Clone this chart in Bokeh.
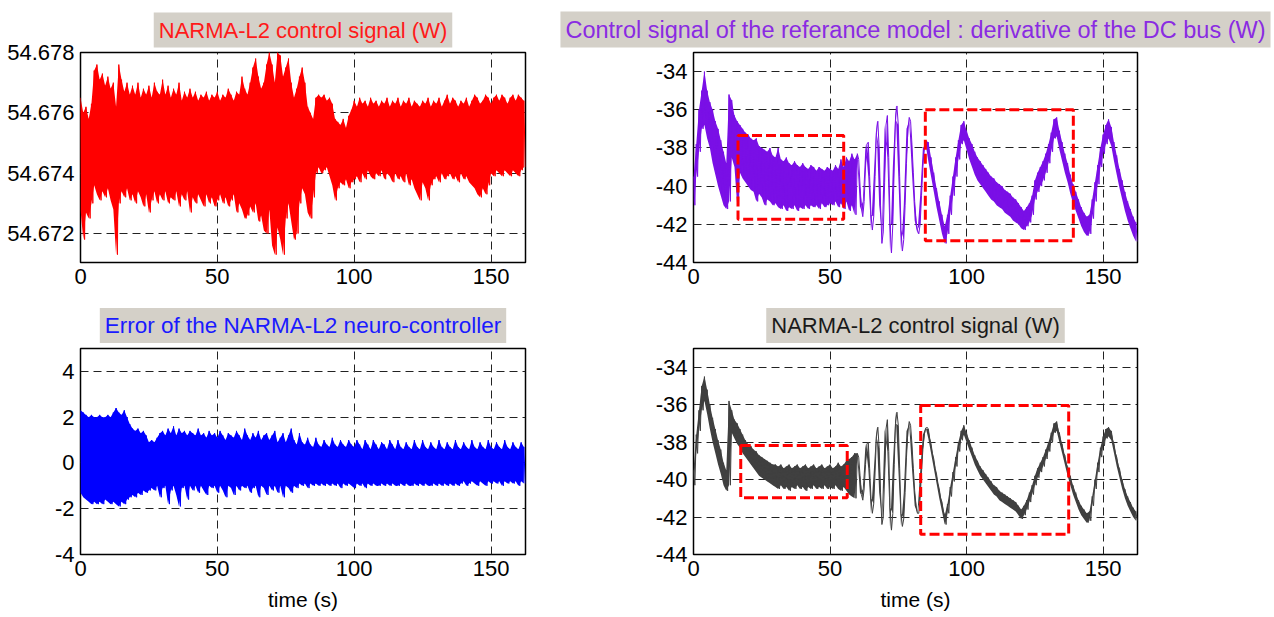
from bokeh.plotting import figure
from bokeh.layouts import column, row
from bokeh.models import Range1d, FixedTicker, PrintfTickFormatter
from bokeh.embed import file_html
from bokeh.resources import INLINE

# sample instants (s); each trace is drawn as upper edge at t and lower edge at t+0.5
time_s = list(range(163))

red_hi = [
    54.6765, 54.6760, 54.6762, 54.6758, 54.6763, 54.6774, 54.6776, 54.6771, 54.6773, 54.6769,
    54.6772, 54.6768, 54.6770, 54.6762, 54.6776, 54.6771, 54.6767, 54.6770, 54.6766, 54.6769,
    54.6766, 54.6770, 54.6765, 54.6768, 54.6766, 54.6769, 54.6765, 54.6770, 54.6767, 54.6766,
    54.6771, 54.6766, 54.6769, 54.6765, 54.6768, 54.6766, 54.6770, 54.6764, 54.6767, 54.6765,
    54.6768, 54.6765, 54.6767, 54.6764, 54.6766, 54.6765, 54.6767, 54.6764, 54.6766, 54.6765,
    54.6767, 54.6764, 54.6766, 54.6765, 54.6768, 54.6766, 54.6764, 54.6767, 54.6766, 54.6772,
    54.6768, 54.6766, 54.6770, 54.6775, 54.6778, 54.6772, 54.6768, 54.6770, 54.6776, 54.6780,
    54.6776, 54.6770, 54.6780, 54.6779, 54.6772, 54.6775, 54.6778, 54.6770, 54.6765, 54.6768,
    54.6772, 54.6775, 54.6770, 54.6762, 54.6760, 54.6758, 54.6765, 54.6766, 54.6765, 54.6766,
    54.6764, 54.6765, 54.6763, 54.6758, 54.6757, 54.6756, 54.6758, 54.6755, 54.6759, 54.6761,
    54.6764, 54.6762, 54.6765, 54.6763, 54.6764, 54.6762, 54.6765, 54.6763, 54.6764, 54.6762,
    54.6764, 54.6763, 54.6765, 54.6762, 54.6764, 54.6763, 54.6765, 54.6762, 54.6764, 54.6763,
    54.6765, 54.6762, 54.6764, 54.6763, 54.6762, 54.6764, 54.6763, 54.6765, 54.6762, 54.6764,
    54.6763, 54.6765, 54.6762, 54.6764, 54.6766, 54.6763, 54.6765, 54.6764, 54.6762, 54.6764,
    54.6763, 54.6765, 54.6762, 54.6764, 54.6766, 54.6765, 54.6763, 54.6764, 54.6766, 54.6765,
    54.6763, 54.6765, 54.6766, 54.6764, 54.6766, 54.6765, 54.6763, 54.6765, 54.6766, 54.6764,
    54.6766, 54.6765, 54.6764,
]
red_lo = [
    54.6728, 54.6718, 54.6727, 54.6725, 54.6730, 54.6736, 54.6733, 54.6731, 54.6734, 54.6732,
    54.6735, 54.6731, 54.6728, 54.6713, 54.6730, 54.6734, 54.6732, 54.6735, 54.6731, 54.6733,
    54.6730, 54.6734, 54.6732, 54.6729, 54.6733, 54.6727, 54.6731, 54.6734, 54.6730, 54.6733,
    54.6731, 54.6734, 54.6730, 54.6732, 54.6731, 54.6734, 54.6729, 54.6733, 54.6731, 54.6734,
    54.6727, 54.6732, 54.6730, 54.6733, 54.6731, 54.6729, 54.6733, 54.6730, 54.6732, 54.6729,
    54.6731, 54.6733, 54.6730, 54.6732, 54.6729, 54.6731, 54.6733, 54.6727, 54.6730, 54.6728,
    54.6725, 54.6726, 54.6729, 54.6727, 54.6730, 54.6724, 54.6726, 54.6721, 54.6720, 54.6728,
    54.6716, 54.6713, 54.6722, 54.6718, 54.6713, 54.6725, 54.6730, 54.6724, 54.6718, 54.6720,
    54.6730, 54.6735, 54.6733, 54.6727, 54.6725, 54.6732, 54.6740, 54.6742, 54.6740, 54.6741,
    54.6742, 54.6739, 54.6736, 54.6731, 54.6735, 54.6737, 54.6736, 54.6738, 54.6735, 54.6737,
    54.6738, 54.6739, 54.6737, 54.6740, 54.6738, 54.6741, 54.6739, 54.6738, 54.6740, 54.6739,
    54.6741, 54.6738, 54.6740, 54.6739, 54.6737, 54.6740, 54.6738, 54.6739, 54.6737, 54.6740,
    54.6736, 54.6738, 54.6735, 54.6733, 54.6731, 54.6737, 54.6735, 54.6731, 54.6736, 54.6738,
    54.6739, 54.6737, 54.6740, 54.6738, 54.6739, 54.6740, 54.6738, 54.6739, 54.6737, 54.6740,
    54.6738, 54.6739, 54.6737, 54.6736, 54.6735, 54.6733, 54.6732, 54.6735, 54.6733, 54.6736,
    54.6740, 54.6739, 54.6741, 54.6740, 54.6739, 54.6741, 54.6740, 54.6739, 54.6741, 54.6740,
    54.6739, 54.6741, 54.6742,
]

purple_hi = [
    -39.5, -37.8, -36.0, -35.0, -34.0, -35.0, -35.6, -36.0, -36.6, -37.0,
    -37.6, -38.2, -38.8, -35.2, -35.5, -36.3, -36.6, -36.8, -37.0, -37.2,
    -37.3, -37.5, -37.6, -37.5, -37.9, -38.0, -38.1, -38.2, -38.0, -38.4,
    -38.5, -38.0, -38.6, -38.7, -38.5, -38.8, -38.9, -38.7, -38.9, -39.0,
    -38.8, -39.0, -39.1, -38.9, -39.0, -39.2, -39.0, -39.1, -39.2, -39.0,
    -39.1, -39.2, -38.9, -39.1, -38.6, -39.0, -38.5, -38.7, -38.3, -38.6,
    -38.3, -40.0, -41.6, -39.0, -37.7, -41.5, -41.6, -37.2, -38.0, -43.0,
    -39.8, -36.3, -42.0, -42.0, -36.5, -36.8, -42.3, -42.8, -38.8, -36.4,
    -37.8, -40.8, -42.3, -42.0, -39.0, -37.6, -37.7, -38.5, -39.3, -40.1,
    -40.8, -41.5, -42.1, -41.5, -40.5, -39.5, -38.5, -37.6, -36.8, -36.6,
    -37.1, -37.5, -37.8, -38.2, -38.5, -38.7, -38.9, -39.1, -39.3, -39.5,
    -39.6, -39.8, -39.9, -40.0, -40.2, -40.3, -40.4, -40.6, -40.7, -40.9,
    -41.1, -41.3, -41.1, -40.9, -40.5, -39.7, -39.3, -39.0, -38.7, -38.3,
    -37.8, -37.2, -36.5, -36.4, -37.1, -37.7, -38.3, -38.8, -39.4, -39.9,
    -40.3, -40.7, -41.1, -41.4, -41.6, -41.5, -40.7, -39.8, -38.9, -38.0,
    -37.3, -36.8, -36.5, -36.9, -37.7, -38.4, -39.1, -39.7, -40.3, -40.8,
    -41.2, -41.6, -41.9,
]
purple_lo = [
    -41.0, -39.5, -38.2, -37.0, -36.8, -37.5, -38.0, -38.8, -39.4, -40.0,
    -40.5, -41.0, -41.2, -40.8, -38.5, -39.0, -41.0, -39.3, -39.6, -39.8,
    -40.0, -40.2, -40.3, -40.8, -40.4, -40.6, -41.0, -40.7, -40.8, -41.0,
    -40.9, -41.1, -41.2, -41.0, -41.3, -41.1, -41.2, -41.0, -41.3, -41.1,
    -41.2, -41.0, -41.2, -41.0, -41.1, -41.0, -41.2, -40.9, -41.1, -41.0,
    -40.9, -41.0, -40.8, -41.1, -40.9, -41.2, -40.8, -41.3, -41.0, -41.5,
    -38.6, -41.2, -40.8, -37.8, -39.5, -42.3, -39.5, -36.6, -41.0, -42.4,
    -36.8, -38.5, -43.5, -39.0, -35.8, -39.5, -43.4, -41.0, -37.0, -36.6,
    -39.3, -41.8, -42.5, -40.5, -38.0, -37.8, -38.7, -39.5, -40.3, -41.1,
    -41.8, -42.5, -43.0, -42.5, -41.5, -40.5, -39.5, -38.6, -37.8, -37.6,
    -38.1, -38.6, -39.0, -39.4, -39.7, -39.9, -40.1, -40.3, -40.5, -40.7,
    -40.8, -41.0, -41.1, -41.2, -41.4, -41.5, -41.6, -41.8, -41.9, -42.0,
    -42.2, -42.3, -42.1, -41.9, -41.5, -40.7, -40.3, -40.0, -39.7, -39.3,
    -38.8, -38.2, -37.5, -37.4, -38.1, -38.7, -39.3, -39.8, -40.4, -40.9,
    -41.3, -41.7, -42.1, -42.4, -42.6, -42.5, -41.7, -40.8, -39.9, -39.0,
    -38.3, -37.8, -37.5, -37.9, -38.7, -39.4, -40.1, -40.7, -41.3, -41.8,
    -42.2, -42.6, -42.9,
]

blue_hi = [
    2.3, 2.2, 2.1, 2.0, 2.1, 2.0, 2.0, 2.1, 2.0, 2.0,
    2.1, 2.0, 2.2, 2.4, 2.2, 2.1, 2.3, 2.0, 1.7, 1.5,
    1.4, 1.5, 1.3, 1.4, 1.2, 0.9, 1.0, 0.9, 1.1, 1.3,
    1.4, 1.2, 1.5, 1.3, 1.6, 1.2, 1.5, 1.3, 1.4, 1.2,
    1.4, 1.3, 1.2, 1.5, 1.2, 1.3, 1.1, 1.4, 1.2, 1.3,
    1.1, 1.4, 1.2, 1.0, 1.3, 1.2, 1.1, 1.4, 1.2, 1.0,
    1.5, 1.2, 1.0, 1.3, 1.1, 1.4, 1.0, 1.2, 1.3, 1.0,
    1.2, 1.4, 0.9, 1.1, 1.3, 0.9, 1.2, 1.5, 1.0, 0.8,
    1.3, 0.9, 0.8, 1.1, 0.8, 0.7, 1.1, 0.8, 0.7, 1.0,
    0.8, 0.7, 1.1, 0.8, 0.7, 1.0, 0.8, 0.7, 1.0, 0.8,
    0.7, 1.0, 0.8, 0.6, 1.0, 0.8, 0.6, 1.0, 0.8, 0.6,
    0.9, 0.8, 0.6, 1.0, 0.8, 0.6, 1.0, 0.7, 0.6, 0.9,
    0.7, 0.6, 1.0, 0.7, 0.6, 1.0, 0.7, 0.6, 0.9, 0.7,
    0.6, 1.0, 0.7, 0.6, 0.9, 0.7, 0.6, 1.0, 0.7, 0.6,
    0.9, 0.7, 0.6, 1.0, 0.7, 0.6, 0.9, 0.7, 0.6, 1.0,
    0.7, 0.6, 0.9, 0.7, 0.6, 1.0, 0.7, 0.6, 0.9, 0.7,
    0.6, 0.9, 0.7,
]
blue_lo = [
    -1.3, -1.5, -1.6, -1.7, -1.8, -1.7, -1.8, -1.7, -1.8, -1.6,
    -1.7, -1.8, -1.7, -1.8, -1.9, -1.7, -1.8, -1.6, -1.5, -1.4,
    -1.5, -1.3, -1.4, -1.2, -1.3, -1.2, -1.1, -1.2, -1.0, -1.5,
    -1.1, -1.0, -1.8, -1.2, -1.0, -1.4, -1.9, -1.1, -1.0, -1.6,
    -1.0, -1.2, -1.0, -1.3, -1.0, -1.2, -1.4, -1.0, -1.1, -1.0,
    -1.3, -1.0, -1.2, -1.5, -1.0, -1.1, -1.4, -1.0, -1.2, -1.0,
    -1.1, -1.0, -1.3, -1.1, -1.0, -1.5, -1.0, -1.1, -1.4, -1.0,
    -1.2, -1.0, -1.3, -1.0, -1.5, -1.0, -1.1, -1.3, -1.0, -1.1,
    -0.9, -1.0, -0.9, -1.1, -0.9, -1.0, -0.9, -1.0, -0.9, -1.0,
    -0.9, -1.0, -0.9, -1.0, -0.9, -1.1, -0.9, -1.0, -0.9, -1.0,
    -1.1, -0.9, -1.0, -0.9, -1.1, -0.9, -1.0, -0.9, -1.0, -1.0,
    -0.9, -1.0, -0.9, -1.0, -0.9, -1.0, -1.0, -0.9, -1.0, -0.9,
    -1.0, -1.0, -0.9, -1.0, -0.9, -1.0, -0.9, -1.0, -1.0, -0.9,
    -1.0, -0.9, -1.0, -0.9, -1.0, -0.9, -1.0, -0.9, -1.0, -0.9,
    -0.8, -1.0, -0.9, -0.8, -0.9, -1.0, -0.8, -0.9, -1.0, -0.8,
    -0.9, -0.8, -0.9, -0.8, -1.0, -0.8, -0.9, -0.8, -0.9, -0.8,
    -1.0, -0.8, -0.9,
]

gray_hi = [
    -39.5, -37.6, -36.3, -35.0, -34.5, -35.2, -36.0, -36.7, -37.3, -37.9,
    -38.4, -39.1, -39.5, -35.8, -36.3, -36.8, -37.0, -37.3, -37.6, -37.9,
    -38.1, -38.2, -38.4, -38.5, -38.7, -38.8, -38.9, -39.0, -39.1, -39.2,
    -39.2, -39.3, -39.2, -39.4, -39.3, -39.2, -39.4, -39.3, -39.2, -39.4,
    -39.3, -39.2, -39.4, -39.3, -39.2, -39.4, -39.3, -39.2, -39.4, -39.3,
    -39.2, -39.4, -39.3, -39.1, -39.3, -39.2, -39.0, -38.9, -38.8, -38.6,
    -38.6, -39.8, -41.1, -39.2, -38.0, -41.0, -41.3, -37.7, -38.3, -42.4,
    -39.8, -36.8, -41.5, -41.8, -37.0, -37.1, -41.8, -42.1, -38.8, -36.9,
    -38.1, -40.6, -41.8, -41.0, -38.4, -37.3, -37.3, -38.1, -38.9, -39.7,
    -40.5, -41.2, -41.9, -41.3, -40.4, -39.6, -38.8, -38.0, -37.4, -37.1,
    -37.5, -37.9, -38.3, -38.7, -39.0, -39.3, -39.5, -39.7, -39.9, -40.1,
    -40.3, -40.4, -40.6, -40.7, -40.8, -40.9, -41.0, -41.1, -41.2, -41.4,
    -41.6, -41.4, -41.1, -40.7, -40.3, -39.8, -39.4, -39.1, -38.8, -38.4,
    -38.0, -37.5, -37.0, -36.9, -37.5, -38.1, -38.7, -39.3, -39.8, -40.3,
    -40.7, -41.1, -41.4, -41.6, -41.8, -41.7, -40.9, -40.0, -39.1, -38.3,
    -37.7, -37.3, -37.2, -37.4, -38.1, -38.8, -39.4, -40.0, -40.5, -40.9,
    -41.2, -41.5, -41.7,
]
gray_lo = [
    -40.3, -38.6, -37.4, -36.3, -35.8, -36.5, -37.3, -38.0, -38.6, -39.2,
    -39.7, -40.3, -40.6, -40.3, -37.5, -37.8, -38.1, -38.3, -38.6, -38.8,
    -39.0, -39.2, -39.4, -39.6, -39.8, -39.9, -40.0, -40.1, -40.2, -40.3,
    -40.4, -40.5, -40.3, -40.5, -40.4, -40.6, -40.4, -40.5, -40.3, -40.5,
    -40.4, -40.6, -40.4, -40.5, -40.3, -40.5, -40.4, -40.5, -40.3, -40.5,
    -40.4, -40.5, -40.3, -40.5, -40.6, -40.4, -40.6, -40.8, -40.9, -41.0,
    -38.8, -40.8, -40.5, -38.1, -39.4, -41.8, -39.6, -37.2, -40.7, -42.0,
    -37.3, -38.5, -42.7, -39.2, -36.4, -39.4, -42.5, -40.7, -37.4, -37.1,
    -39.4, -41.4, -41.8, -39.6, -37.6, -37.2, -37.8, -38.6, -39.4, -40.2,
    -41.0, -41.7, -42.4, -41.8, -40.9, -40.1, -39.3, -38.5, -37.9, -37.6,
    -38.0, -38.4, -38.8, -39.2, -39.5, -39.8, -40.0, -40.2, -40.4, -40.6,
    -40.8, -40.9, -41.1, -41.2, -41.3, -41.4, -41.5, -41.6, -41.7, -41.9,
    -42.1, -41.9, -41.6, -41.2, -40.8, -40.3, -39.9, -39.6, -39.3, -38.9,
    -38.5, -38.0, -37.5, -37.4, -38.0, -38.6, -39.2, -39.8, -40.3, -40.8,
    -41.2, -41.6, -41.9, -42.1, -42.3, -42.2, -41.4, -40.5, -39.6, -38.8,
    -38.2, -37.8, -37.7, -37.9, -38.6, -39.3, -39.9, -40.5, -41.0, -41.4,
    -41.7, -42.0, -42.2,
]

# highlighted zones (dashed red rectangles)
tr_box_left = [16.3, 84.9]
tr_box_right = [55.0, 139.1]
tr_box_top = [-37.35, -36.0]
tr_box_bottom = [-41.74, -42.86]
br_box_left = [17.3, 83.2]
br_box_right = [56.3, 137.4]
br_box_top = [-38.18, -36.04]
br_box_bottom = [-40.97, -42.92]

x_ticks = [0, 50, 100, 150]
tl_y_ticks = [54.672, 54.674, 54.676, 54.678]
bl_y_ticks = [-4, -2, 0, 2, 4]
r_y_ticks = [-44, -42, -40, -38, -36, -34]

TICK_FONT = "Liberation Sans"
TITLE_FONT = "Liberation Sans"


def zigzag(hi, lo):
    xs, ys = [], []
    for t, h, l in zip(time_s, hi, lo):
        xs += [t, t + 0.5]
        ys += [h, l]
    return xs, ys


def make(width, height, left, right, top, bottom, yr, yticks, title, tcolor, tsize,
         standoff, yfmt, xlabel=None):
    p = figure(width=width, height=height, output_backend="svg", toolbar_location=None,
               x_range=Range1d(0, 162.6), y_range=Range1d(*yr), title=title,
               min_border_left=left, min_border_right=right,
               min_border_top=top, min_border_bottom=bottom)
    p.title.align = "center"
    p.title.text_font = TITLE_FONT
    p.title.text_font_size = tsize
    p.title.text_font_style = "normal"
    p.title.text_color = tcolor
    p.title.background_fill_color = "#d4d0c8"
    p.title.padding = 5
    p.title.standoff = standoff
    p.background_fill_color = "white"
    p.border_fill_color = "white"
    p.outline_line_color = "black"
    p.outline_line_width = 1.5
    p.outline_line_alpha = 1.0
    for ax in (p.xaxis[0], p.yaxis[0]):
        ax.axis_line_color = None
        ax.major_tick_line_color = None
        ax.minor_tick_line_color = None
        ax.major_tick_out = 0
        ax.major_tick_in = 0
        ax.minor_tick_out = 0
        ax.major_label_text_font = TICK_FONT
        ax.major_label_text_font_size = "22px"
        ax.major_label_text_color = "black"
    p.xaxis.ticker = FixedTicker(ticks=x_ticks)
    p.yaxis.ticker = FixedTicker(ticks=yticks)
    p.xaxis.formatter = PrintfTickFormatter(format="%d")
    p.yaxis.formatter = PrintfTickFormatter(format=yfmt)
    p.xaxis.major_label_standoff = 6
    p.yaxis.major_label_standoff = 6
    if xlabel:
        p.xaxis.axis_label = xlabel
        p.xaxis.axis_label_text_font = TICK_FONT
        p.xaxis.axis_label_text_font_size = "21px"
        p.xaxis.axis_label_text_font_style = "normal"
        p.xaxis.axis_label_text_color = "black"
        p.xaxis.axis_label_standoff = 9
    p.grid.grid_line_color = "#222222"
    p.grid.grid_line_dash = "8 5"
    p.grid.grid_line_width = 1
    return p


def trace(p, hi, lo, color, width=1.0):
    p.varea(x=time_s, y1=lo, y2=hi, fill_color=color, fill_alpha=1.0)
    x, y = zigzag(hi, lo)
    p.line(x, y, line_color=color, line_width=width)


p1 = make(540, 300, 80, 15, 52, 38, (54.67104, 54.678), tl_y_ticks,
          "NARMA-L2 control signal (W)", "#ff1a1a", "22px", 10, "%.3f")
trace(p1, red_hi, red_lo, "#ff0000")

p2 = make(734, 300, 153, 137, 52, 38, (-44, -33), r_y_ticks,
          "Control signal of the referance model : derivative of the DC bus (W)",
          "#8a2be2", "23.5px", 10, "%d")
trace(p2, purple_hi, purple_lo, "#7a10e6")
p2.quad(left=tr_box_left, right=tr_box_right, top=tr_box_top, bottom=tr_box_bottom,
        fill_color=None, line_color="#ff0000", line_width=3, line_dash="10 4")

p3 = make(540, 317, 80, 15, 45, 63, (-4, 5), bl_y_ticks,
          "Error of the NARMA-L2 neuro-controller", "#1a1aff", "22.5px", 11, "%d",
          xlabel="time (s)")
trace(p3, blue_hi, blue_lo, "#0000ff")

p4 = make(734, 317, 153, 137, 45, 63, (-44, -33), r_y_ticks,
          "NARMA-L2 control signal (W)", "#1a1a1a", "22px", 11, "%d", xlabel="time (s)")
trace(p4, gray_hi, gray_lo, "#404040")
p4.quad(left=br_box_left, right=br_box_right, top=br_box_top, bottom=br_box_bottom,
        fill_color=None, line_color="#ff0000", line_width=3, line_dash="10 4")

layout = column(row(p1, p2), row(p3, p4))
open("out.html", "w").write(file_html(layout, INLINE))
